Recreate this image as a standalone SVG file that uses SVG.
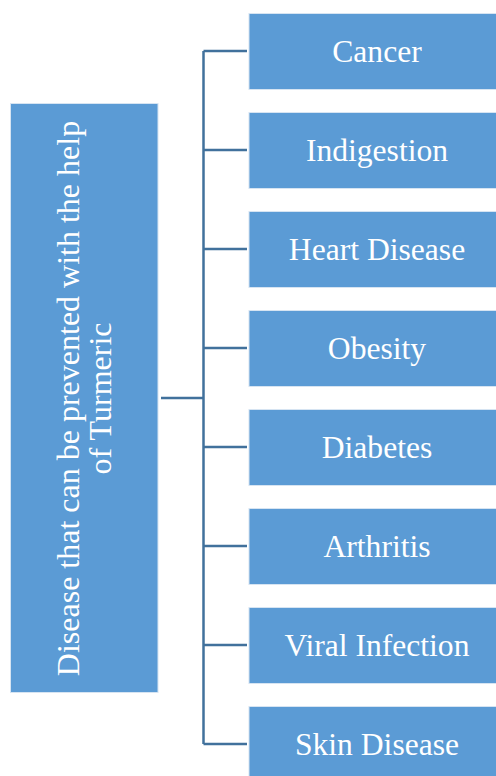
<svg xmlns="http://www.w3.org/2000/svg" width="496" height="776" viewBox="0 0 496 776">
<style>
.box{fill:#5B9BD5;stroke:#D6E4F2;stroke-width:1}
.lbl{font-family:"Liberation Serif","Times New Roman",serif;font-size:31.6px;fill:#FFFFFF;text-anchor:middle}
.con{stroke:#41719C;stroke-width:2.5;fill:none}
</style>
<rect width="496" height="776" fill="#FFFFFF"/>
<g id="connectors">
<path class="con" d="M161 398H203.5M203.5 51V744M203.5 51H247M203.5 150H247M203.5 249H247M203.5 348H247M203.5 447H247M203.5 546H247M203.5 645H247M203.5 744H247"/>
</g>
<g id="root">
<rect class="box" x="10.5" y="103.5" width="147.5" height="589"/>
<text class="lbl" style="font-size:32px" transform="translate(79 398.5) rotate(-90)" x="0" y="0">Disease that can be prevented with the help</text>
<text class="lbl" style="font-size:32px" transform="translate(111 398.5) rotate(-90)" x="0" y="0">of Turmeric</text>
</g>
<g id="n1"><rect class="box" x="249" y="13.5" width="248" height="76"/><text class="lbl" x="377" y="62">Cancer</text></g>
<g id="n2"><rect class="box" x="249" y="112.5" width="248" height="76"/><text class="lbl" x="377" y="161">Indigestion</text></g>
<g id="n3"><rect class="box" x="249" y="211.5" width="248" height="76"/><text class="lbl" x="377" y="260">Heart Disease</text></g>
<g id="n4"><rect class="box" x="249" y="310.5" width="248" height="76"/><text class="lbl" x="377" y="359">Obesity</text></g>
<g id="n5"><rect class="box" x="249" y="409.5" width="248" height="76"/><text class="lbl" x="377" y="458">Diabetes</text></g>
<g id="n6"><rect class="box" x="249" y="508.5" width="248" height="76"/><text class="lbl" x="377" y="557">Arthritis</text></g>
<g id="n7"><rect class="box" x="249" y="607.5" width="248" height="76"/><text class="lbl" x="377" y="656">Viral Infection</text></g>
<g id="n8"><rect class="box" x="249" y="706.5" width="248" height="76"/><text class="lbl" x="377" y="755">Skin Disease</text></g>
</svg>
